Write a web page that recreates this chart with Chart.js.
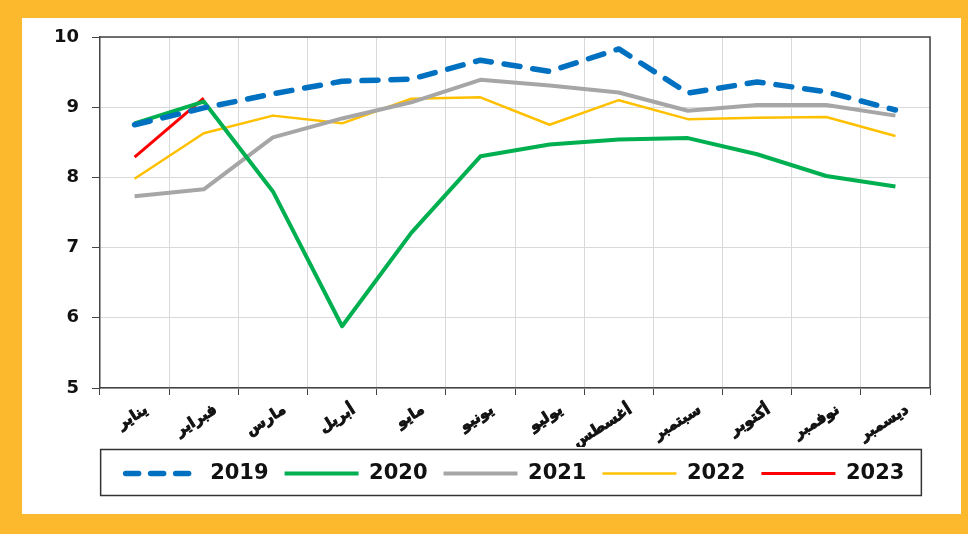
<!DOCTYPE html>
<html><head><meta charset="utf-8">
<script src="https://cdn.jsdelivr.net/npm/chart.js@4.4.1/dist/chart.umd.min.js"></script>
<style>html,body{margin:0;padding:0;background:#fff;overflow:hidden}#wrap{width:968px;height:534px;position:relative}</style>
</head><body><div id="wrap"><canvas id="c" width="968" height="534"></canvas></div>
<script>
const months = ['يناير','فبراير','مارس','أبريل','مايو','يونيو','يوليو','أغسطس','سبتمبر','أكتوبر','نوفمبر','ديسمبر'];
const years = ['2019','2020','2021','2022','2023'];
const s2019 = [8.75, 8.99, 9.19, 9.37, 9.40, 9.67, 9.51, 9.83, 9.20, 9.36, 9.22, 8.96];
const s2020 = [8.77, 9.08, 7.80, 5.88, 7.21, 8.30, 8.47, 8.54, 8.56, 8.33, 8.02, 7.87];
const s2021 = [7.73, 7.83, 8.57, 8.84, 9.07, 9.39, 9.31, 9.21, 8.95, 9.03, 9.03, 8.88];
const s2022 = [7.98, 8.63, 8.88, 8.77, 9.12, 9.14, 8.75, 9.10, 8.83, 8.85, 8.86, 8.59];
const s2023 = [8.29, 9.13];
const yTicks = [5, 6, 7, 8, 9, 10];

const frame = {
  id: 'frame',
  beforeDraw(chart) {
    const ctx = chart.ctx;
    ctx.save();
    ctx.fillStyle = '#FDB92E';
    ctx.fillRect(0, 0, chart.width, chart.height);
    ctx.fillStyle = '#ffffff';
    ctx.fillRect(22, 18, 939, 496);
    ctx.restore();
  },
  afterDraw(chart) {
    const ctx = chart.ctx, a = chart.chartArea;
    ctx.save();
    ctx.strokeStyle = '#444';
    ctx.lineWidth = 1.5;
    ctx.beginPath();
    ctx.moveTo(a.left, a.top); ctx.lineTo(a.right, a.top); ctx.lineTo(a.right, a.bottom);
    ctx.stroke();
    const hb = chart.legend.legendHitBoxes;
    if (hb && hb.length) {
      const l = hb[0].left - 25, r = hb[hb.length - 1].left + hb[hb.length - 1].width + 17;
      const cy = hb[0].top + hb[0].height / 2;
      const t = cy - 24, b = cy + 22;
      ctx.strokeStyle = '#333';
      ctx.lineWidth = 1.5;
      ctx.strokeRect(l, t, r - l, b - t);
    }
    ctx.restore();
  }
};

const mk = (label, data, color, width, extra) => Object.assign({
  label, data, borderColor: color, backgroundColor: color, borderWidth: width,
  pointRadius: 0, pointHoverRadius: 0, tension: 0, fill: false,
  borderJoinStyle: 'round'
}, extra || {});

new Chart(document.getElementById('c'), {
  type: 'line',
  data: {
    labels: months,
    datasets: [
      mk(years[0], s2019, '#0070C0', 5.5, {borderDash: [16, 13], borderCapStyle: 'round'}),
      mk(years[1], s2020, '#00B050', 4),
      mk(years[2], s2021, '#A6A6A6', 4),
      mk(years[3], s2022, '#FFC000', 2.5),
      mk(years[4], s2023, '#FF0000', 3)
    ]
  },
  options: {
    responsive: false,
    animation: false,
    events: [],
    layout: {padding: {left: 22, right: 38, top: 37, bottom: 40}},
    plugins: {
      tooltip: {enabled: false},
      legend: {
        position: 'bottom',
        fullSize: false,
        align: 'center',
        labels: {
          usePointStyle: true,
          pointStyleWidth: 74,
          padding: 16,
          color: '#111',
          font: {family: '"DejaVu Sans", sans-serif', size: 21, weight: 'bold'},
          generateLabels(chart) {
            return chart.data.datasets.map((ds, i) => ({
              text: ds.label,
              fillStyle: ds.borderColor,
              strokeStyle: ds.borderColor,
              lineWidth: ds.borderWidth,
              lineDash: ds.borderDash ? [13, 12] : [],
              lineCap: ds.borderCapStyle || 'butt',
              pointStyle: 'line',
              fontColor: '#111',
              hidden: false,
              datasetIndex: i
            }));
          }
        }
      }
    },
    scales: {
      x: {
        offset: true,
        afterFit(s) { s.height = 59; },
        grid: {offset: true, color: '#d9d9d9', lineWidth: 1, tickLength: 7, tickColor: '#444', drawTicks: true},
        border: {color: '#444', width: 1.5},
        ticks: {
          autoSkip: false, minRotation: 32, maxRotation: 32, padding: 6, labelOffset: 12,
          color: '#111', textStrokeColor: '#111', textStrokeWidth: 0.9,
          font: {family: '"DejaVu Sans", sans-serif', size: 15, weight: 'bold'}
        }
      },
      y: {
        min: 5, max: 10,
        afterFit(s) { s.width = 78; },
        afterBuildTicks(s) { s.ticks = yTicks.map(v => ({value: v})); },
        grid: {color: '#d9d9d9', lineWidth: 1, tickLength: 8, tickColor: '#444'},
        border: {color: '#444', width: 1.5},
        ticks: {
          padding: 13, color: '#111',
          font: {family: '"DejaVu Sans", sans-serif', size: 18, weight: 'bold'}
        }
      }
    }
  },
  plugins: [frame]
});
</script></body></html>
